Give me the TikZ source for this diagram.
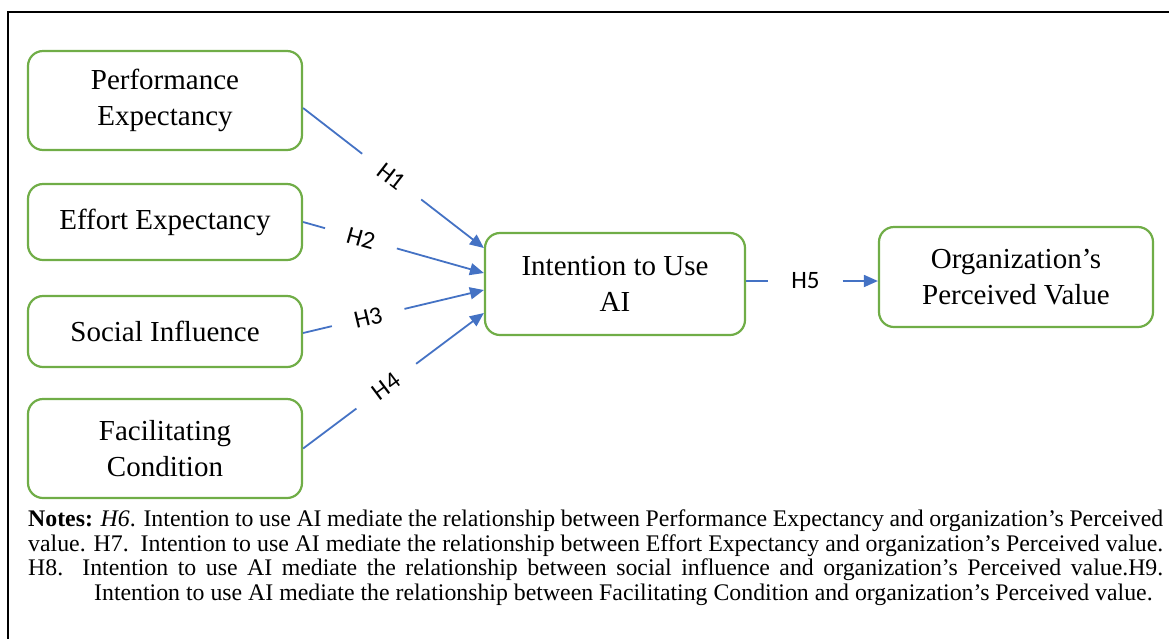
\documentclass[tikz,border=0pt]{standalone}
\usepackage{fontspec}
\setmainfont{Liberation Serif}
\newfontfamily\labelfont{Carlito}
\usetikzlibrary{arrows.meta}
\definecolor{boxgreen}{HTML}{70AD47}
\definecolor{arrowblue}{HTML}{4472C4}
\begin{document}
\begin{tikzpicture}[x=1pt,y=-1pt,
  construct/.style={draw=boxgreen, line width=2.2pt, rounded corners=15pt, align=center,
    font=\fontsize{29}{36}\selectfont, inner sep=0pt},
  hypline/.style={draw=arrowblue, line width=1.8pt},
  tolabel/.style={hypline, shorten >=22pt},
  fromlabel/.style={hypline, shorten <=22pt, -{Triangle[length=14pt,width=12pt]}},
  hlabel/.style={font=\labelfont\fontsize{25}{28}\selectfont,
    inner sep=1pt, sloped},
  frame/.style={line width=2.2pt, draw=black}]
\useasboundingbox (0,0) rectangle (1169,638);
% outer frame (open on the right and bottom)
\draw[frame] (8,642) -- (8,12) -- (1175,12);

% constructs
\node[construct, minimum width=274pt, minimum height=99pt] (pe) at (165,100.5) {Performance\\Expectancy};
\node[construct, minimum width=274pt, minimum height=76pt] (ee) at (165,222) {Effort Expectancy};
\node[construct, minimum width=274pt, minimum height=71pt] (si) at (165,331.5) {Social Influence};
\node[construct, minimum width=274pt, minimum height=99pt] (fc) at (165,448.5) {Facilitating\\Condition};
\node[construct, minimum width=260pt, minimum height=102pt] (int) at (615,284) {Intention to Use\\AI};
\node[construct, minimum width=274pt, minimum height=100pt] (opv) at (1016,277) {Organization’s\\Perceived Value};

% end points of the hypothesis paths
\coordinate (s1) at ([yshift=-7.5pt]pe.east);
\coordinate (t1) at ([yshift=36pt]int.west);
\coordinate (s2) at (ee.east);
\coordinate (t2) at ([yshift=11pt]int.west);
\coordinate (s3) at ([yshift=-1.5pt]si.east);
\coordinate (t3) at ([yshift=-6pt]int.west);
\coordinate (s4) at (fc.east);
\coordinate (t4) at ([yshift=-29pt]int.west);
\coordinate (s5) at ([yshift=3pt]int.east);
\coordinate (t5) at ([yshift=-4pt]opv.west);

% labels, placed along the paths
\path (s1) -- node[hlabel, pos=0.49] (h1) {H1} (t1);
\path (s2) -- node[hlabel, pos=0.32] (h2) {H2} (t2);
\path (s3) -- node[hlabel, pos=0.36] (h3) {H3} (t3);
\path (s4) -- node[hlabel, pos=0.46] (h4) {H4} (t4);
\path (s5) -- node[hlabel, pos=0.45] (h5) {H5} (t5);

% hypothesis connectors, broken by their labels
\draw[tolabel] (s1) -- (h1);  \draw[fromlabel] (h1) -- (t1);
\draw[tolabel] (s2) -- (h2);  \draw[fromlabel] (h2) -- (t2);
\draw[tolabel] (s3) -- (h3);  \draw[fromlabel] (h3) -- (t3);
\draw[tolabel] (s4) -- (h4);  \draw[fromlabel] (h4) -- (t4);
\draw[tolabel] (s5) -- (h5);  \draw[fromlabel] (h5) -- (t5);

% notes
\node[anchor=north west, text width=1135pt, align=justify, inner sep=0pt,
  font=\fontsize{23.8}{24.5}\selectfont] (notes) at (28,510)
  {\emergencystretch=0pt\textbf{Notes:} \textit{H6}. Intention to use AI mediate the relationship between Performance Expectancy and organization’s Perceived\linebreak
   value. H7.\ \ Intention to use AI mediate the relationship between Effort Expectancy and organization’s Perceived value.\linebreak
   H8.\ \ Intention to use AI mediate the relationship between social influence and organization’s Perceived value.H9.\linebreak
   \hspace*{66pt}Intention to use AI mediate the relationship between Facilitating Condition and organization’s Perceived value.};
\end{tikzpicture}
\end{document}
